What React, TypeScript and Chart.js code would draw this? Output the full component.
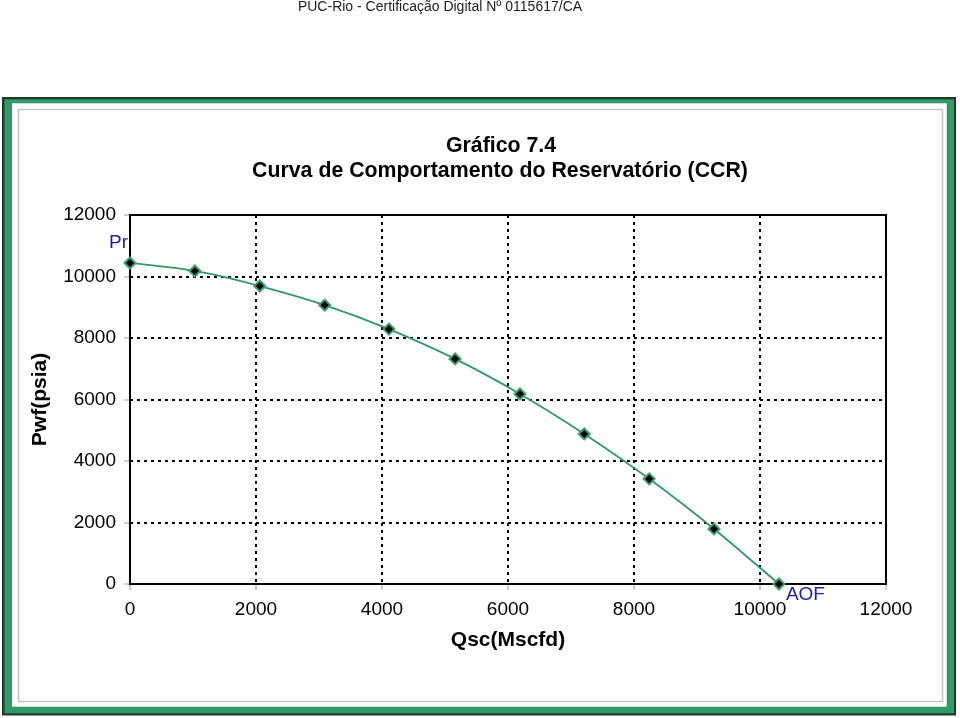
import React, { useEffect, useRef } from 'react';
import { Chart, registerables } from 'chart.js';

Chart.register(...registerables);

// ---- data ----
const qsc = [0, 1030, 2060, 3090, 4110, 5160, 6190, 7210, 8240, 9270, 10300];
const pwf = [10440, 10180, 9690, 9070, 8290, 7320, 6180, 4880, 3420, 1790, 0];
const axisMin = 0;
const axisMax = 12000;
const axisStep = 2000;
const headerText = 'PUC-Rio - Certificação Digital Nº 0115617/CA';
const titleLines = ['Gráfico 7.4', 'Curva de Comportamento do Reservatório (CCR)'];
const xTitle = 'Qsc(Mscfd)';
const yTitle = 'Pwf(psia)';
const prLabel = 'Pr';
const aofLabel = 'AOF';

const FONT = '"Liberation Sans", Arial, Helvetica, sans-serif';
const GREEN = '#339966';
const LABEL_BLUE = '#2020a8';

const framePlugin = {
  id: 'framePlugin',
  beforeDraw(chart: any) {
    const ctx = chart.ctx;
    const W = chart.width;
    const H = chart.height;
    ctx.save();
    ctx.fillStyle = '#ffffff';
    ctx.fillRect(0, 0, W, H);
    // outer dark border
    ctx.fillStyle = '#1f3a2c';
    ctx.fillRect(2, 97, 954, 618.5);
    // green band
    ctx.fillStyle = GREEN;
    ctx.fillRect(4.5, 99.3, 949.5, 614);
    // white inner
    ctx.fillStyle = '#ffffff';
    ctx.fillRect(12, 103.3, 934.7, 603.4);
    // gray inner line
    ctx.strokeStyle = '#c4c4c4';
    ctx.lineWidth = 1.5;
    ctx.strokeRect(18.5, 109.5, 924, 592);
    // header text
    ctx.fillStyle = '#222222';
    ctx.font = `14px ${FONT}`;
    ctx.textAlign = 'center';
    ctx.textBaseline = 'middle';
    ctx.fillText(headerText, 440, 7);
    // title
    ctx.fillStyle = '#000000';
    ctx.font = `bold 21.3px ${FONT}`;
    ctx.fillText(titleLines[0], 501, 146);
    ctx.fillText(titleLines[1], 500, 171);
    ctx.restore();
  },
  beforeDatasetsDraw(chart: any) {
    const { ctx, chartArea } = chart;
    ctx.save();
    ctx.strokeStyle = '#000000';
    ctx.lineWidth = 2;
    ctx.setLineDash([]);
    ctx.strokeRect(chartArea.left, chartArea.top, chartArea.right - chartArea.left, chartArea.bottom - chartArea.top);
    ctx.restore();
  },
  afterDatasetsDraw(chart: any) {
    const { ctx } = chart;
    const xs = chart.scales.x;
    const ys = chart.scales.y;
    ctx.save();
    ctx.fillStyle = LABEL_BLUE;
    ctx.font = `19px ${FONT}`;
    ctx.textBaseline = 'middle';
    const px0 = xs.getPixelForValue(qsc[0]);
    const py0 = ys.getPixelForValue(pwf[0]);
    ctx.textAlign = 'right';
    ctx.fillText(prLabel, px0 - 2, py0 - 20);
    const n = qsc.length - 1;
    const pxn = xs.getPixelForValue(qsc[n]);
    const pyn = ys.getPixelForValue(pwf[n]);
    ctx.textAlign = 'left';
    ctx.fillText(aofLabel, pxn + 7, pyn + 11);
    ctx.restore();
  },
};

export default function App() {
  const canvasRef = useRef<HTMLCanvasElement | null>(null);

  useEffect(() => {
    const canvas = canvasRef.current;
    if (!canvas) return;
    const points = qsc.map((x, i) => ({ x, y: pwf[i] }));
    const chart = new Chart(canvas, {
      type: 'line',
      data: {
        datasets: [
          {
            data: points,
            borderColor: GREEN,
            borderWidth: 1.8,
            tension: 0.35,
            fill: false,
            pointStyle: 'rectRot',
            pointRadius: 5.5,
            pointBackgroundColor: '#000000',
            pointBorderColor: '#3aa070',
            pointBorderWidth: 2,
            clip: false as any,
          },
        ],
      },
      options: {
        responsive: false,
        animation: false,
        devicePixelRatio: 1,
        layout: { padding: { left: 20, right: 74, top: 215, bottom: 20 } },
        plugins: {
          legend: { display: false },
          title: { display: false },
          tooltip: { enabled: false },
        },
        scales: {
          x: {
            type: 'linear',
            min: axisMin,
            max: axisMax,
            afterFit: (s: any) => { s.height = 114; },
            ticks: {
              stepSize: axisStep,
              color: '#000000',
              font: { family: FONT, size: 19 },
              padding: 8,
              maxRotation: 0,
              callback: (v: any) => String(v),
            },
            grid: {
              color: '#000000',
              lineWidth: 2,
              tickColor: '#bdbdbd',
              tickLength: 6,
              tickWidth: 1.5,
            },
            border: { display: false, dash: [3, 4] },
            title: {
              display: true,
              text: xTitle,
              color: '#000000',
              font: { family: FONT, size: 21, weight: 'bold' },
              padding: { top: 0, bottom: 45 },
            },
          },
          y: {
            type: 'linear',
            min: axisMin,
            max: axisMax,
            afterFit: (s: any) => { s.width = 110; },
            ticks: {
              stepSize: axisStep,
              color: '#000000',
              font: { family: FONT, size: 19 },
              padding: 8,
              callback: (v: any) => String(v),
            },
            grid: {
              color: '#000000',
              lineWidth: 2,
              tickColor: '#bdbdbd',
              tickLength: 6,
              tickWidth: 1.5,
            },
            border: { display: false, dash: [3, 4] },
            title: {
              display: true,
              text: yTitle,
              color: '#000000',
              font: { family: FONT, size: 21, weight: 'bold' },
              padding: { top: 7.5, bottom: 0 },
            },
          },
        },
      },
      plugins: [framePlugin],
    } as any);
    return () => chart.destroy();
  }, []);

  return (
    <div style={{ position: 'absolute', left: 0, top: 0, width: 960, height: 718 }}>
      <canvas ref={canvasRef} width={960} height={718} style={{ display: 'block', width: 960, height: 718 }} />
    </div>
  );
}
